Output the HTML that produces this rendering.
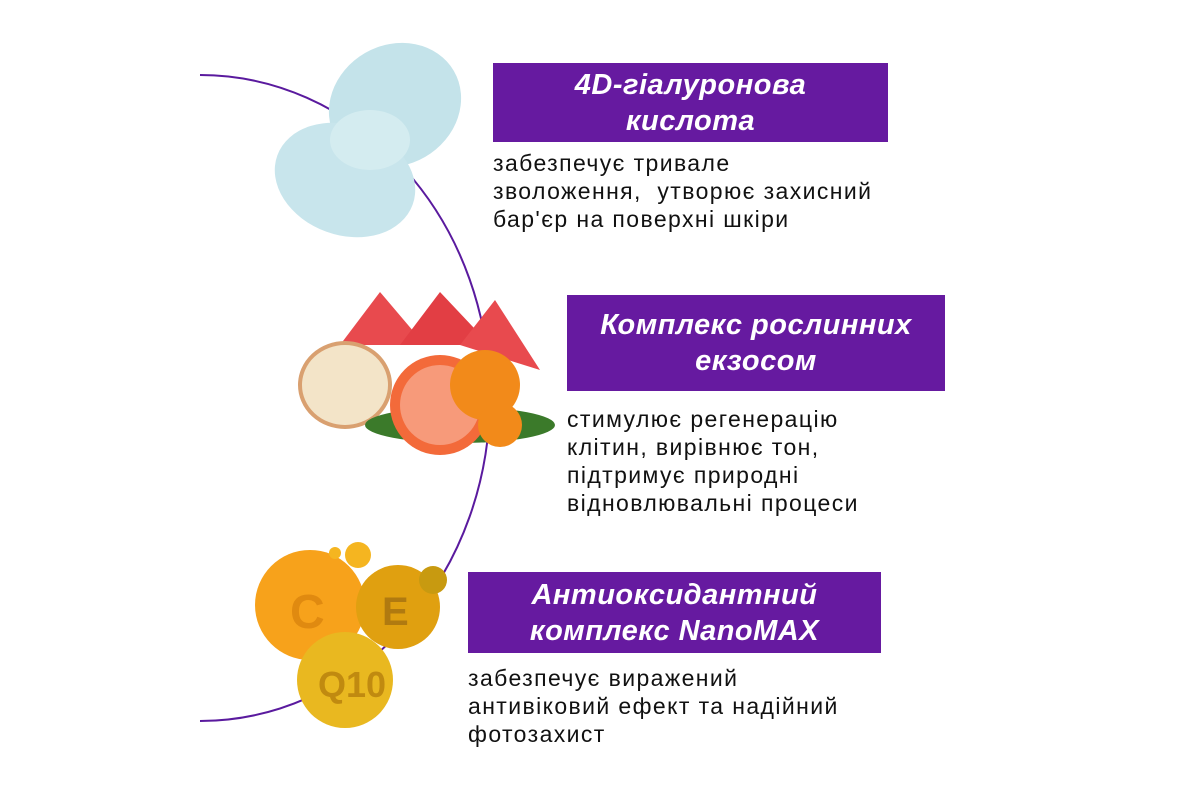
<!DOCTYPE html>
<html><head><meta charset="utf-8"><style>
body{margin:0;width:1200px;height:800px;background:#fff;position:relative;overflow:hidden;font-family:"Liberation Sans",sans-serif}
.box{position:absolute;background:#661aa0;color:#fff;font-weight:bold;font-style:italic;font-size:29px;letter-spacing:0.5px;text-align:center;display:flex;align-items:center;justify-content:center;line-height:36px}
.d{position:absolute;color:#111;font-size:23px;letter-spacing:1.4px;line-height:28px;white-space:nowrap}
svg{position:absolute;left:0;top:0}
</style></head><body>
<svg width="1200" height="800">
<path d="M200,75 A290 323 0 0 1 200,721" fill="none" stroke="#5a1a9e" stroke-width="2"/>
<ellipse cx="395" cy="105" rx="68" ry="60" fill="#c4e3ea" transform="rotate(-30 395 105)"/>
<ellipse cx="345" cy="180" rx="72" ry="55" fill="#c8e5ec" transform="rotate(20 345 180)"/>
<ellipse cx="370" cy="140" rx="40" ry="30" fill="#d4ecf0"/>
<polygon points="340,345 380,292 425,345" fill="#e84a4e"/>
<polygon points="400,345 440,292 490,345" fill="#e23e44"/>
<polygon points="460,345 495,300 540,370" fill="#e84a4e"/>
<ellipse cx="345" cy="385" rx="45" ry="42" fill="#f3e4c8" stroke="#d9a070" stroke-width="4"/>
<ellipse cx="460" cy="425" rx="95" ry="18" fill="#3b7a2a"/>
<circle cx="440" cy="405" r="50" fill="#f36a3a"/>
<circle cx="440" cy="405" r="40" fill="#f79a7a"/>
<circle cx="485" cy="385" r="35" fill="#f28a1a"/>
<circle cx="500" cy="425" r="22" fill="#f28a1a"/>
<circle cx="310" cy="605" r="55" fill="#f7a21b"/>
<circle cx="398" cy="607" r="42" fill="#e0a010"/>
<circle cx="345" cy="680" r="48" fill="#e9b820"/>
<circle cx="358" cy="555" r="13" fill="#f5b520"/>
<circle cx="335" cy="553" r="6" fill="#f5b520"/>
<circle cx="433" cy="580" r="14" fill="#c89a10"/>
<text x="290" y="628" font-family="Liberation Sans" font-weight="bold" font-size="48" fill="#e08a10">C</text>
<text x="382" y="625" font-family="Liberation Sans" font-weight="bold" font-size="40" fill="#b07a10">E</text>
<text x="318" y="697" font-family="Liberation Sans" font-weight="bold" font-size="36" fill="#c08a10">Q10</text>
</svg>
<div class="box" style="left:493px;top:63px;width:395px;height:79px">4D-гіалуронова<br>кислота</div>
<div class="d" style="left:493px;top:149px">забезпечує тривале<br>зволоження,&nbsp; утворює захисний<br>бар'єр на поверхні шкіри</div>
<div class="box" style="left:567px;top:295px;width:378px;height:96px">Комплекс рослинних<br>екзосом</div>
<div class="d" style="left:567px;top:405px">стимулює регенерацію<br>клітин, вирівнює тон,<br>підтримує природні<br>відновлювальні процеси</div>
<div class="box" style="left:468px;top:572px;width:413px;height:81px">Антиоксидантний<br>комплекс NanoMAX</div>
<div class="d" style="left:468px;top:664px">забезпечує виражений<br>антивіковий ефект та надійний<br>фотозахист</div>
</body></html>
